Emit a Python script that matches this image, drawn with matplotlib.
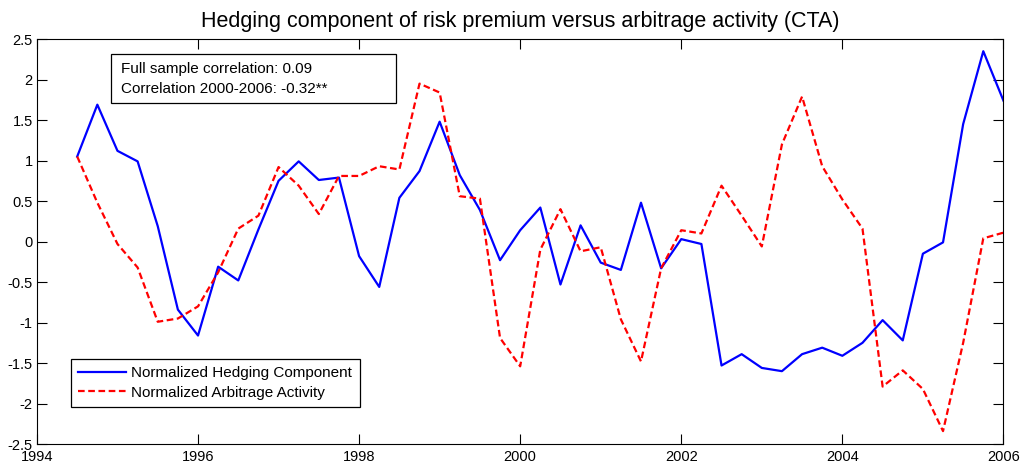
import numpy as np
import matplotlib
matplotlib.use("Agg")
import matplotlib.pyplot as plt
from matplotlib.patches import Rectangle

plt.rcParams["font.family"] = ["Liberation Sans", "DejaVu Sans"]

# quarterly dates, mid-1994 to 2006
years = np.arange(1994.5, 2006.01, 0.25)

hedging = [1.05, 1.69, 1.12, 0.99, 0.19, -0.84, -1.16, -0.31, -0.48, 0.15,
           0.75, 0.99, 0.76, 0.79, -0.18, -0.56, 0.54, 0.87, 1.48, 0.82,
           0.39, -0.23, 0.14, 0.42, -0.53, 0.20, -0.26, -0.35, 0.48, -0.33,
           0.03, -0.03, -1.53, -1.39, -1.56, -1.60, -1.39, -1.31, -1.41, -1.25,
           -0.97, -1.22, -0.15, -0.01, 1.45, 2.35, 1.74]

arbitrage = [1.05, 0.48, -0.03, -0.32, -0.99, -0.95, -0.80, -0.38, 0.16, 0.32,
             0.92, 0.69, 0.34, 0.81, 0.81, 0.93, 0.89, 1.95, 1.84, 0.56,
             0.53, -1.19, -1.54, -0.10, 0.40, -0.12, -0.07, -0.96, -1.48, -0.33,
             0.14, 0.10, 0.69, 0.32, -0.06, 1.20, 1.79, 0.93, 0.52, 0.16,
             -1.79, -1.59, -1.82, -2.34, -1.25, 0.04, 0.11]

xticks = np.arange(1994, 2007, 2)
yticks = np.arange(-2.5, 2.51, 0.5)

fig = plt.figure(figsize=(10.26, 4.65), dpi=100)
ax = fig.add_axes([0.036, 0.045, 0.942, 0.871])

ax.plot(years, hedging, color="blue", lw=1.6, label="Normalized Hedging Component")
ax.plot(years, arbitrage, color="red", lw=1.6, ls=(0, (3, 1.6)),
        label="Normalized Arbitrage Activity")

ax.set_xlim(1994, 2006)
ax.set_ylim(-2.5, 2.5)
ax.set_xticks(xticks)
ax.set_yticks(yticks)
ax.set_yticklabels([f"{v:g}" for v in yticks])
ax.tick_params(direction="in", top=True, right=True, labelsize=10.5, length=7)
ax.tick_params(axis="y", pad=3)
ax.tick_params(axis="x", pad=4.5)

ax.set_title("Hedging component of risk premium versus arbitrage activity (CTA)",
             fontsize=15.5, pad=9)

# correlation annotation box (fixed size, like a MATLAB textbox)
ax.add_patch(Rectangle((0.077, 0.842), 0.295, 0.121, transform=ax.transAxes,
                       fc="white", ec="black", lw=0.9, zorder=5))
ax.text(0.0865, 0.9025, "Full sample correlation: 0.09\nCorrelation 2000-2006: -0.32**",
        transform=ax.transAxes, fontsize=11, va="center", ha="left",
        linespacing=1.55, zorder=6)

leg = ax.legend(loc="lower left", bbox_to_anchor=(0.035, 0.091), borderaxespad=0,
                fontsize=11, handlelength=3.1, handletextpad=0.35, frameon=True,
                fancybox=False, edgecolor="black", framealpha=1, borderpad=0.5,
                labelspacing=0.35)
leg.get_frame().set_linewidth(0.9)

fig.savefig("out.png", dpi=100)
